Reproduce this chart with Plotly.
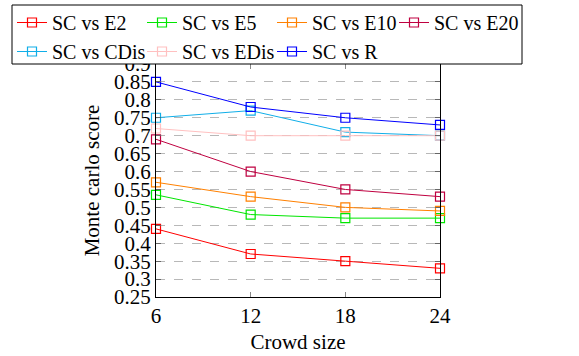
import plotly.graph_objects as go

crowd_size = [6, 12, 18, 24]
series_names = ["SC vs E2", "SC vs E5", "SC vs E10", "SC vs E20",
                "SC vs CDis", "SC vs EDis", "SC vs R"]
sc_vs_e2 = [0.44, 0.37, 0.35, 0.33]
sc_vs_e5 = [0.535, 0.48, 0.47, 0.47]
sc_vs_e10 = [0.57, 0.53, 0.50, 0.49]
sc_vs_e20 = [0.69, 0.60, 0.55, 0.53]
sc_vs_cdis = [0.75, 0.77, 0.71, 0.70]
sc_vs_edis = [0.72, 0.70, 0.70, 0.70]
sc_vs_r = [0.85, 0.78, 0.75, 0.73]
y_ticks = [0.25, 0.3, 0.35, 0.4, 0.45, 0.5, 0.55, 0.6, 0.65, 0.7, 0.75, 0.8, 0.85, 0.9]

series_values = [sc_vs_e2, sc_vs_e5, sc_vs_e10, sc_vs_e20, sc_vs_cdis, sc_vs_edis, sc_vs_r]
colors = ["#ff0000", "#00e600", "#ff8000", "#bf0040", "#10aee8", "#ffc0c0", "#0000ff"]

FONT = "Liberation Serif"
FS = 20
TFS = 21

# plot area in pixels
L, R, T, B = 156, 440, 64, 297
W, H = 579, 356
def px_x(p):
    return (p - L) / (R - L)
def px_y(p):
    return (B - p) / (B - T)

# legend columns (series index -> legend id), 4 columns, 2 rows
legend_ids = ["legend", "legend2", "legend3", "legend4", "legend", "legend2", "legend3"]
col_left = [12, 142, 272, 394]

fig = go.Figure()
for i, (name, vals, c) in enumerate(zip(series_names, series_values, colors)):
    fig.add_trace(go.Scatter(
        x=crowd_size, y=vals, name=name, mode="lines+markers",
        line=dict(color=c, width=1),
        marker=dict(symbol="square-open", size=9, color=c, line=dict(width=1.2, color=c)),
        cliponaxis=False,
        legend=legend_ids[i],
    ))

# legend frame
fig.add_shape(type="rect", xref="paper", yref="paper",
              x0=px_x(12), x1=px_x(522), y0=px_y(64), y1=px_y(5),
              fillcolor="white", line=dict(color="black", width=1), layer="above")

leg_common = dict(orientation="v", yanchor="top", xanchor="left",
                  bgcolor="rgba(0,0,0,0)", borderwidth=0,
                  font=dict(family=FONT, size=FS), tracegroupgap=0, itemwidth=30)
legends = {}
for k, lid in enumerate(["legend", "legend2", "legend3", "legend4"]):
    legends[lid] = dict(x=px_x(col_left[k]), y=px_y(3), **leg_common)

fig.update_layout(
    width=W, height=H,
    margin=dict(l=L, r=W - R, t=T, b=H - B, autoexpand=False),
    paper_bgcolor="white", plot_bgcolor="white",
    font=dict(family=FONT, size=FS, color="black"),
    showlegend=True,
    **legends,
    xaxis=dict(
        range=[6, 24], tickvals=crowd_size, ticktext=[str(v) for v in crowd_size],
        showgrid=False, zeroline=False,
        showline=True, linecolor="black", linewidth=1, mirror="allticks",
        ticks="inside", ticklen=5, tickcolor="#888888",
        title=dict(text="Crowd size", font=dict(family=FONT, size=TFS), standoff=7),
        tickfont=dict(family=FONT, size=TFS),
    ),
    yaxis=dict(
        range=[0.25, 0.9], tickvals=y_ticks, ticktext=[f"{v:g}" for v in y_ticks],
        showgrid=True, gridcolor="#b8b8b8", griddash="dash", gridwidth=1,
        zeroline=False,
        showline=True, linecolor="black", linewidth=1, mirror="allticks",
        ticks="inside", ticklen=5, tickcolor="#666666",
        title=dict(text="Monte carlo score", font=dict(family=FONT, size=TFS), standoff=8),
        tickfont=dict(family=FONT, size=TFS),
    ),
)

fig.write_html("out.html")
